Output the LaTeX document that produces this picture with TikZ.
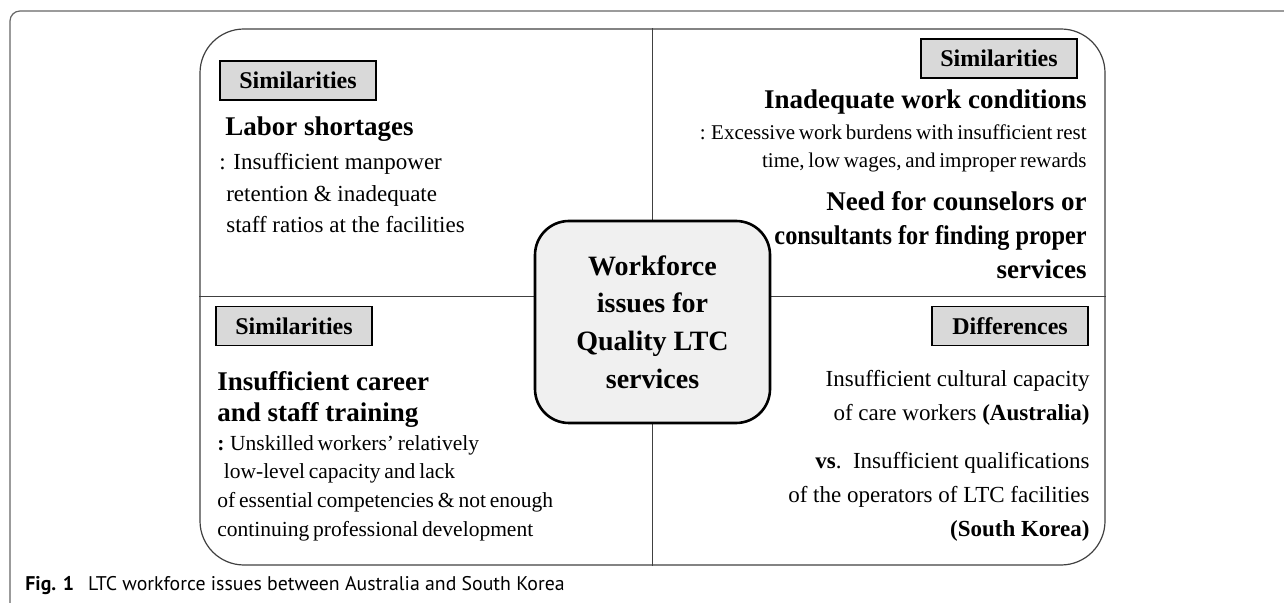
\documentclass[tikz,border=0pt]{standalone}
\usepackage{fontspec}
\setmainfont{Liberation Serif}
\newfontfamily\capfont{PT Sans}
\usetikzlibrary{positioning}

\newcommand{\tightsp}{\spaceskip=.18em plus .05em minus .03em\relax}

\begin{document}
\begin{tikzpicture}[
  x=0.5pt, y=-0.5pt,
  frame/.style={
    draw=black!75, line width=0.6pt,
    rounded corners=22pt, inner sep=0pt,
    minimum width=452.5pt, minimum height=268pt
  },
  core/.style={
    draw, line width=1.3pt, fill=black!6,
    rounded corners=17pt, align=center,
    minimum width=117.5pt, minimum height=101pt,
    font=\fontsize{14}{18.9}\selectfont\bfseries
  },
  tag/.style={
    draw, line width=0.8pt, fill=black!15,
    inner sep=0pt, minimum width=78pt, minimum height=19.5pt,
    font=\fontsize{12}{14}\selectfont\bfseries
  },
  head/.style={inner sep=0pt, font=\fontsize{13.5}{17}\selectfont\bfseries},
  body/.style={inner sep=0pt, font=\fontsize{11.5}{15.75}\selectfont},
  small/.style={inner sep=0pt, font=\fontsize{10.5}{14}\selectfont\tightsp},
  divider/.style={draw=black!75, line width=0.5pt},
]
\useasboundingbox (0,0) rectangle (1284,603);

% --- Figure frame + caption ---
\draw[black!60, line width=0.6pt, rounded corners=5pt] (1284,11) -- (10,11) -- (10,603);
\node[anchor=base west, inner sep=0pt, font=\capfont\fontsize{9.9}{11}\selectfont] (CAP) at (25,590)
  {\textbf{Fig. 1}\hspace{0.7em}LTC workforce issues between Australia and South Korea};

% --- Quadrant frame ---
\node[frame] (FRAME) at (652.5,297) {};
\draw[divider] (FRAME.north) -- (FRAME.south);
\draw[divider] (FRAME.west) -- (FRAME.east);

% --- Centre ---
\node[core] (CORE) at (652.5,322) {Workforce\\ issues for\\ Quality LTC\\ services};

% --- Top left ---
\node[tag] (TAGTL) at (298,80.5) {Similarities};
\node[head, anchor=base west] (HTL) at (225,136) {Labor shortages};
\node[body, anchor=north west, align=left] (BTL) at (219,153)
  {: Insufficient manpower\\ \hspace*{0.3em}retention \& inadequate\\ \hspace*{0.3em}staff ratios at the facilities};

% --- Top right ---
\node[tag] (TAGTR) at (999,58.5) {Similarities};
\node[head, anchor=base east] (HTR1) at (1087,109) {Inadequate work conditions};
\node[small, anchor=north east, align=right] (BTR) at (1087,124)
  {: Excessive work burdens with insufficient rest\\ time, low wages, and improper rewards};
\node[head, anchor=north east, align=right] (HTR2) at (1087,191)
  {Need for counselors or\\ \scalebox{0.9}[1]{consultants for finding proper}\\ services};

% --- Bottom left ---
\node[tag] (TAGBL) at (294,326) {Similarities};
\node[head, anchor=north west, align=left, font=\fontsize{13.5}{15.5}\selectfont\bfseries] (HBL) at (217,371)
  {Insufficient career\\ and staff training};
\node[small, anchor=north west, align=left, font=\fontsize{10.75}{14.3}\selectfont\tightsp] (BBL) at (217,435)
  {\textbf{:} Unskilled workers’ relatively\\ \hspace*{0.3em}low-level capacity and lack\\ of essential competencies \& not enough\\ continuing professional development};

% --- Bottom right ---
\node[tag] (TAGBR) at (1010,326) {Differences};
\node[body, anchor=north east, align=right, font=\fontsize{11.5}{17}\selectfont] (BBR1) at (1090,370)
  {Insufficient cultural capacity\\ of care workers \textbf{(Australia)}};
\node[body, anchor=north east, align=right, font=\fontsize{11.5}{17}\selectfont] (BBR2) at (1090,452)
  {\textbf{vs}.\ \ Insufficient qualifications\\ of the operators of LTC facilities\\ \textbf{(South Korea)}};

\end{tikzpicture}
\end{document}
